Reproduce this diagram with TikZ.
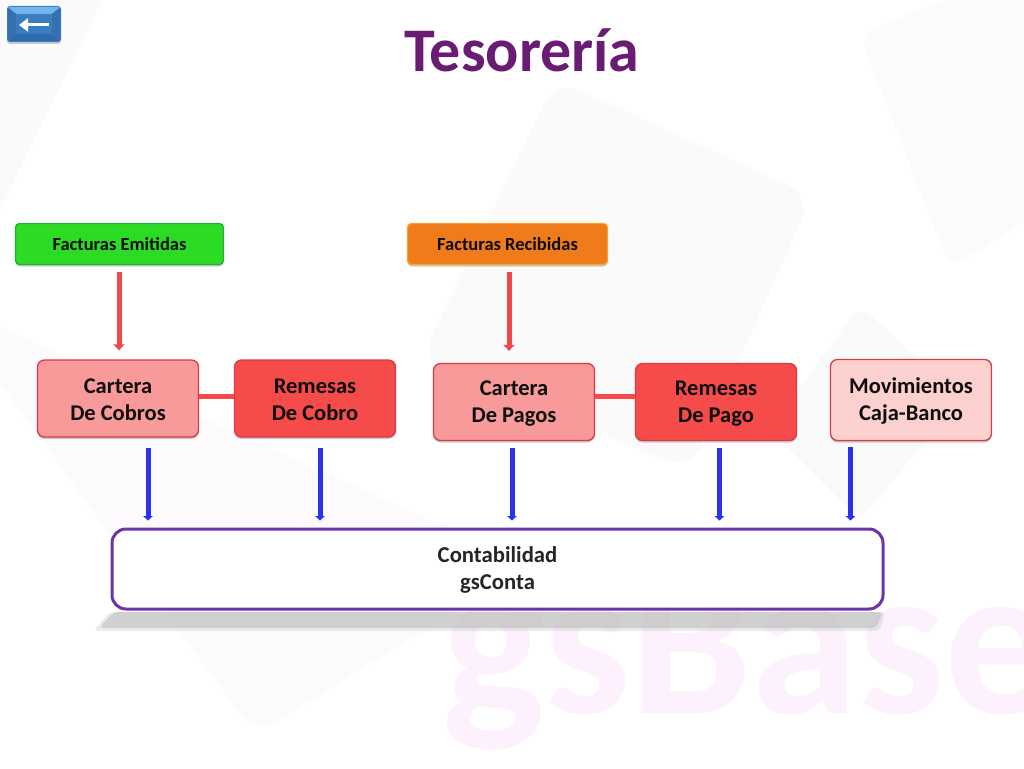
\documentclass[tikz,border=0pt]{standalone}
\usepackage{fontspec}
\setmainfont{Carlito}
\usetikzlibrary{arrows.meta,calc,shadows}
\definecolor{ttl}{HTML}{6A1B73}
\definecolor{grn}{HTML}{2BDB24}
\definecolor{grnb}{HTML}{2AA83A}
\definecolor{org}{HTML}{F07B1A}
\definecolor{orgb}{HTML}{F5A623}
\definecolor{lred}{HTML}{F99A9A}
\definecolor{mred}{HTML}{F54B4B}
\definecolor{pred}{HTML}{FDD0D0}
\definecolor{redb}{HTML}{D93A45}
\definecolor{arrred}{HTML}{F0474F}
\definecolor{arrblue}{HTML}{2A32EE}
\definecolor{purp}{HTML}{6B35A5}
\definecolor{wm}{HTML}{FCF1FC}
\definecolor{bgg}{HTML}{FAFAFA}
\definecolor{bgp}{HTML}{FCFAFD}
\definecolor{btn}{HTML}{3C7DBF}
\definecolor{btnt}{HTML}{72B4EC}
\definecolor{btnb}{HTML}{2F6BAA}
\definecolor{btns}{HTML}{3570B0}
\newcommand\dropline{\rule{0pt}{18pt}}
\tikzset{
  x=1pt,y=-1pt,
  boxbase/.style={draw=redb,line width=1.3pt,rounded corners=7pt,minimum width=161pt,minimum height=77pt,
    align=center,font=\fontsize{22.5}{27}\selectfont\bfseries,text=black!95,inner sep=0pt,
    drop shadow={shadow xshift=0pt,shadow yshift=-2pt,fill=black,opacity=.2}},
  topbox/.style={rounded corners=4pt,line width=1.2pt,minimum height=41pt,inner sep=0pt,
    font=\fontsize{18.5}{22}\selectfont\bfseries,text=black!95,
    drop shadow={shadow xshift=0pt,shadow yshift=-2pt,fill=black,opacity=.2}},
  redarrow/.style={draw=arrred,line width=5pt,-{Triangle[width=11pt,length=6pt]}},
  bluearrow/.style={draw=arrblue,line width=5pt,-{Triangle[width=9.5pt,length=4.5pt]}},
  link/.style={draw=mred,line width=5pt},
  bgshape/.style={rounded corners=26pt,draw=none},
}
\begin{document}
\begin{tikzpicture}
\useasboundingbox (0,0) rectangle (1024,768);
\fill[white] (0,0) rectangle (1024,768);
\begin{scope}
\clip (0,0) rectangle (1024,768);
% faint background shapes
\fill[bgg] (0,210) -- (102,0) -- (0,0) -- cycle;
\fill[bgp,bgshape] (-60,300) -- (255,735) -- (530,565) -- cycle;
\fill[bgg,bgshape] (556,80) -- (812,196) -- (690,470) -- (420,360) -- cycle;
\fill[bgp,bgshape,rounded corners=14pt] (860,35) -- (1040,-40) -- (1060,200) -- (950,268) -- cycle;
\fill[bgg,bgshape,rounded corners=16pt] (860,305) -- (960,400) -- (860,520) -- (770,430) -- cycle;
\node[anchor=base west,text=wm,inner sep=0pt,font=\fontsize{216}{216}\selectfont\bfseries] (wmark) at (442,713) {gsBase};
\end{scope}
% back button
\fill[black,opacity=.2,rounded corners=3pt] (7,8) rectangle (61,44);
\fill[rounded corners=3pt,fill=btn] (7,6) rectangle (61,42);
\fill[btnt,rounded corners=1pt] (8,7) -- (60,7) -- (52,14) -- (16,14) -- cycle;
\fill[btnb,rounded corners=1pt] (8,41) -- (60,41) -- (52,34) -- (16,34) -- cycle;
\fill[btns] (8,8) -- (16,14) -- (16,34) -- (8,40) -- cycle;
\fill[btns] (60,8) -- (52,14) -- (52,34) -- (60,40) -- cycle;
\draw[white,line width=3pt,-{Triangle[width=13pt,length=9pt]}] (49,25) -- (19,25);
% title
\node[text=ttl,inner sep=0pt,font=\fontsize{62}{64}\selectfont\bfseries] (title) at (522,50) {Tesorería};
% contabilidad shadow
\fill[black!25,opacity=.3,rounded corners=5pt] (110,612) -- (885,612) -- (880,631) -- (93,631) -- cycle;
\fill[black!25,opacity=.6,rounded corners=4pt] (114,612) -- (883,612) -- (876,628) -- (99,628) -- cycle;
% nodes
\node[topbox,fill=grn,draw=grnb,minimum width=208pt] (fe) at (119.5,244) {Facturas Emitidas};
\node[topbox,fill=org,draw=orgb,minimum width=200pt] (fr) at (507.5,244) {Facturas Recibidas};
\node[boxbase,fill=lred] (cc) at (118,398.5) {\dropline Cartera\\De Cobros};
\node[boxbase,fill=mred] (rc) at (315,398.5) {\dropline Remesas\\De Cobro};
\node[boxbase,fill=lred] (cp) at (514,402) {\dropline Cartera\\De Pagos};
\node[boxbase,fill=mred] (rp) at (716,402) {\dropline Remesas\\De Pago};
\node[boxbase,fill=pred,minimum height=81pt] (mc) at (911,400) {\dropline Movimientos\\Caja-Banco};
\node[draw=purp,line width=3pt,fill=white,rounded corners=14pt,minimum width=771pt,minimum height=80pt,
  align=center,inner sep=0pt,text=black!85,font=\fontsize{22.7}{27.5}\selectfont\bfseries] (ct) at (497.5,569) {\dropline Contabilidad\\gsConta};
% connectors
\coordinate (xa) at (119,0);
\coordinate (xb) at (509,0);
\coordinate (x1) at (148,0);
\coordinate (x2) at (320,0);
\coordinate (x3) at (512,0);
\coordinate (x4) at (719.5,0);
\coordinate (x5) at (850.5,0);
\draw[redarrow,shorten <=7pt,shorten >=9pt] (fe.south -| xa) -- (cc.north -| xa);
\draw[redarrow,shorten <=7pt,shorten >=12pt] (fr.south -| xb) -- (cp.north -| xb);
\draw[link] (cc.east |- 0,396) -- (rc.west |- 0,396);
\draw[link] (cp.east |- 0,396) -- (rp.west |- 0,396);
\draw[bluearrow,shorten <=10pt,shorten >=7pt] (cc.south -| x1) -- (ct.north -| x1);
\draw[bluearrow,shorten <=10pt,shorten >=7pt] (rc.south -| x2) -- (ct.north -| x2);
\draw[bluearrow,shorten <=7pt,shorten >=7pt] (cp.south -| x3) -- (ct.north -| x3);
\draw[bluearrow,shorten <=7pt,shorten >=7pt] (rp.south -| x4) -- (ct.north -| x4);
\draw[bluearrow,shorten <=6pt,shorten >=7pt] (mc.south -| x5) -- (ct.north -| x5);
\end{tikzpicture}
\end{document}
